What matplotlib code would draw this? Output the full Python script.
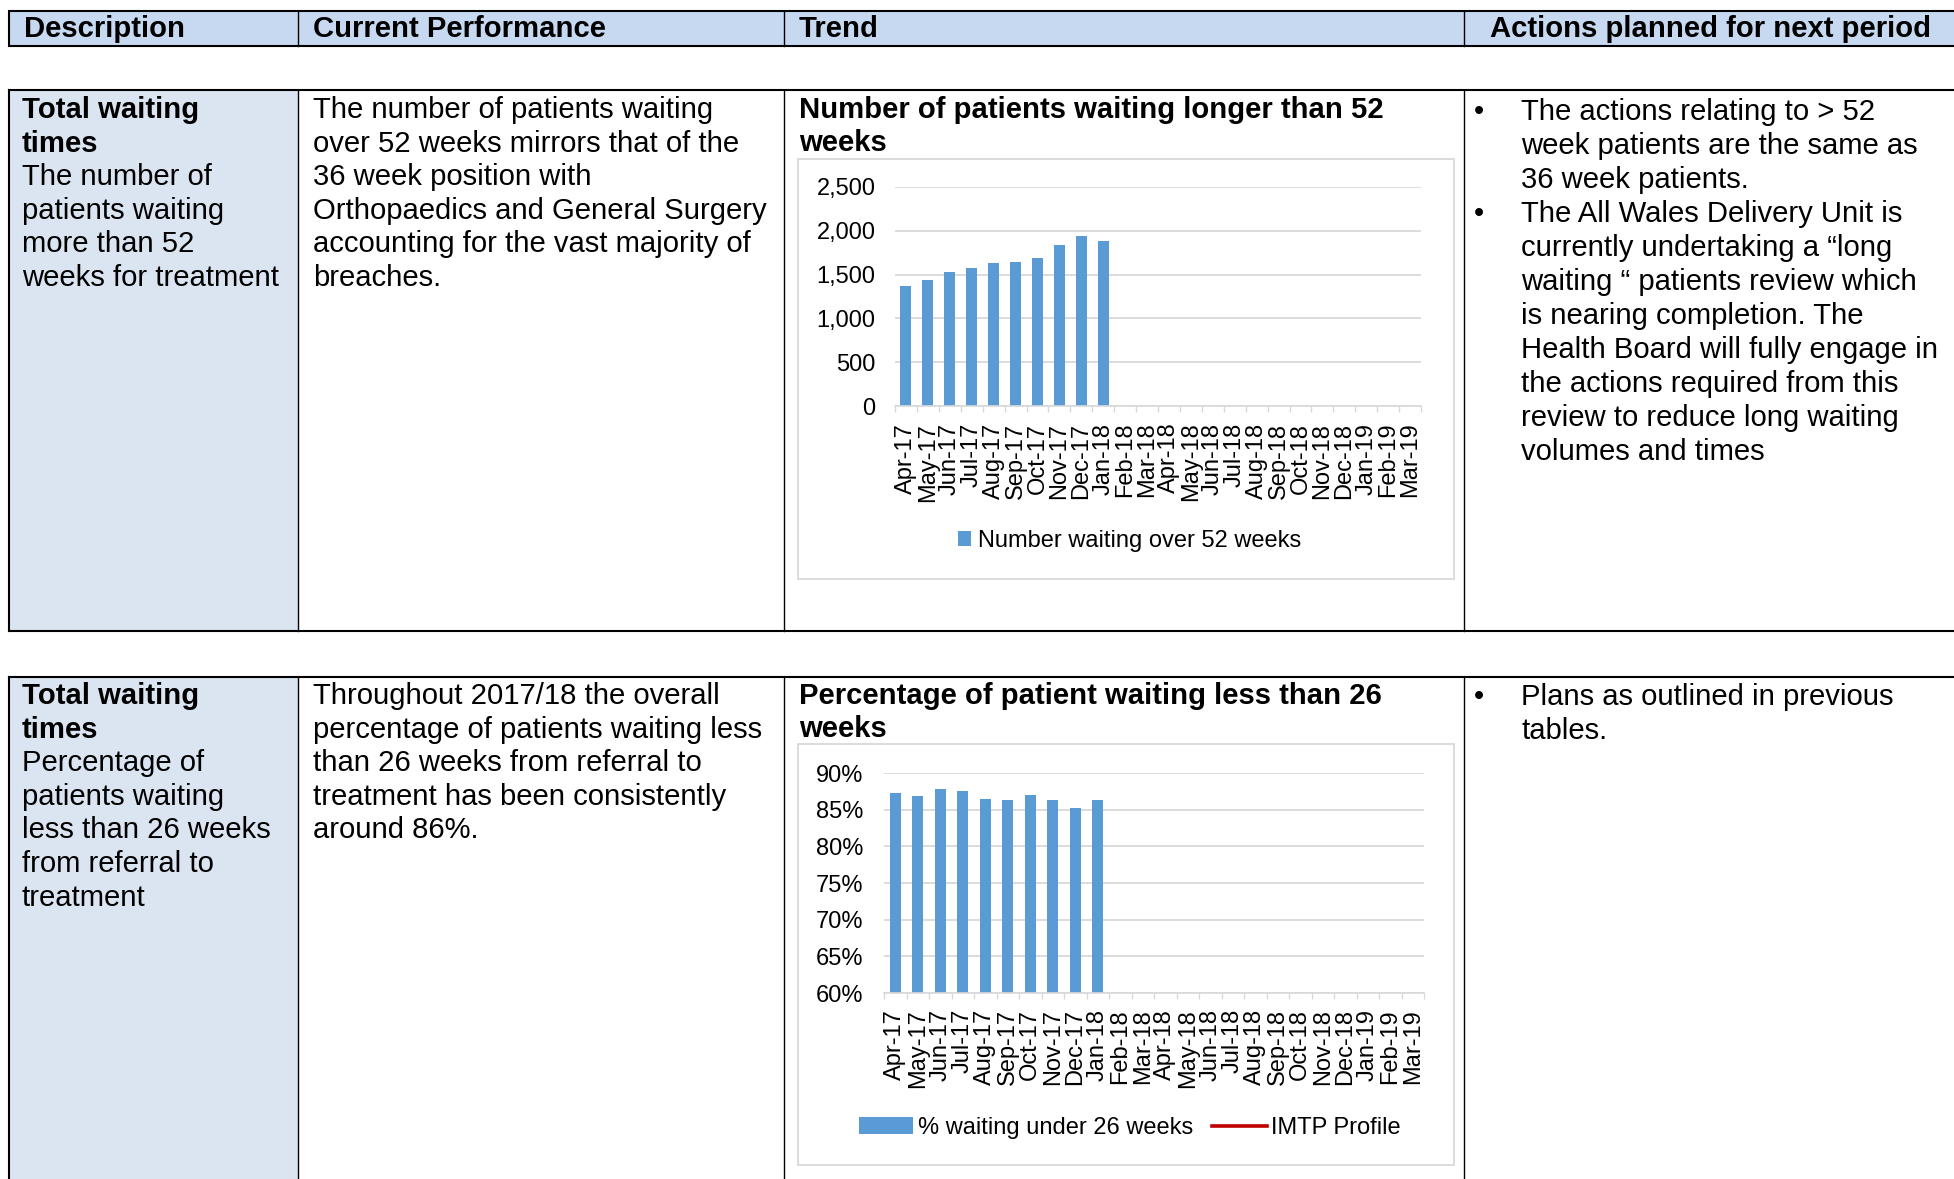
import numpy as np
import matplotlib
matplotlib.use("Agg")
import matplotlib.pyplot as plt
from matplotlib.patches import Rectangle
from matplotlib.ticker import FuncFormatter, FixedLocator, MultipleLocator

plt.rcParams['font.family'] = ['Liberation Sans', 'DejaVu Sans']

# ---------------- data ----------------
months = ["Apr-17", "May-17", "Jun-17", "Jul-17", "Aug-17", "Sep-17", "Oct-17",
          "Nov-17", "Dec-17", "Jan-18", "Feb-18", "Mar-18", "Apr-18", "May-18",
          "Jun-18", "Jul-18", "Aug-18", "Sep-18", "Oct-18", "Nov-18", "Dec-18",
          "Jan-19", "Feb-19", "Mar-19"]
over52_weeks = [1367, 1439, 1527, 1572, 1629, 1640, 1689, 1833, 1936, 1879]
pct_under26 = [87.3, 86.8, 87.8, 87.5, 86.5, 86.3, 87.0, 86.3, 85.2, 86.3]
imtp_profile = []  # series present in legend only, no values shown

headers = ["Description", "Current Performance", "Trend", "Actions planned for next period"]

row1_desc = [("Total waiting", True), ("times", True), ("The number of", False),
             ("patients waiting", False), ("more than 52", False), ("weeks for treatment", False)]
row1_perf = ["The number of patients waiting", "over 52 weeks mirrors that of the",
             "36 week position with", "Orthopaedics and General Surgery",
             "accounting for the vast majority of", "breaches."]
row1_title = ["Number of patients waiting longer than 52", "weeks"]
row1_actions = [["The actions relating to > 52", "week patients are the same as", "36 week patients."],
                ["The All Wales Delivery Unit is", "currently undertaking a \u201clong",
                 "waiting \u201c patients review which", "is nearing completion. The",
                 "Health Board will fully engage in", "the actions required from this",
                 "review to reduce long waiting", "volumes and times"]]

row2_desc = [("Total waiting", True), ("times", True), ("Percentage of", False),
             ("patients waiting", False), ("less than 26 weeks", False),
             ("from referral to", False), ("treatment", False)]
row2_perf = ["Throughout 2017/18 the overall", "percentage of patients waiting less",
             "than 26 weeks from referral to", "treatment has been consistently", "around 86%."]
row2_title = ["Percentage of patient waiting less than 26", "weeks"]
row2_actions = [["Plans as outlined in previous", "tables."]]

# ---------------- layout ----------------
W, H = 1954, 1179
DPI = 100
BODY = 21.1
CHART = 17.0
BAR = '#5B9BD5'
GRID = '#D9D9D9'

fig = plt.figure(figsize=(W / DPI, H / DPI), dpi=DPI)
bg = fig.add_axes([0, 0, 1, 1])
bg.set_xlim(0, W)
bg.set_ylim(H, 0)
bg.axis('off')

def px_axes(l, t, r, b):
    return fig.add_axes([l / W, 1 - b / H, (r - l) / W, (b - t) / H])

LW_OUT = 1.5
LW_IN = 1.0
xl, xd1, xd2, xd3, xr = 9, 298, 784, 1464, W + 10

# header row
bg.add_patch(Rectangle((xl, 11), xr - xl, 35, facecolor='#C6D9F1', edgecolor='black', lw=LW_OUT, zorder=1))
for xd in (xd1, xd2, xd3):
    bg.plot([xd, xd], [11, 46], color='black', lw=LW_IN, zorder=2)
for x, s in zip([24, 313, 799, 1490], headers):
    bg.text(x, 37, s, fontsize=BODY, fontweight='bold', va='baseline', ha='left', zorder=3)

def draw_row(top, bottom):
    bg.add_patch(Rectangle((xl, top), xd1 - xl, bottom - top, facecolor='#DBE5F1', edgecolor='none', zorder=0))
    bg.plot([xl, xr], [top, top], color='black', lw=LW_OUT, zorder=2)
    if bottom < H:
        bg.plot([xl, xr], [bottom, bottom], color='black', lw=LW_OUT, zorder=2)
    bg.plot([xl, xl], [top, bottom], color='black', lw=LW_OUT, zorder=2)
    for xd in (xd1, xd2, xd3):
        bg.plot([xd, xd], [top, bottom], color='black', lw=LW_IN, zorder=2)

draw_row(90, 631)
draw_row(677, H + 10)

LS = 33.6
def text_lines(x, y0, lines, bold=False, ls=LS):
    for i, item in enumerate(lines):
        if isinstance(item, tuple):
            s, b = item
        else:
            s, b = item, bold
        bg.text(x, y0 + 10 + i * ls, s, fontsize=BODY, fontweight='bold' if b else 'normal',
                va='baseline', ha='left', zorder=3)

def bullets(y0, groups, ls=34.0):
    k = 0
    for g in groups:
        bg.text(1479, y0 + 10 + k * ls, "\u2022", fontsize=BODY, va='baseline', ha='center', zorder=3)
        for s in g:
            bg.text(1521, y0 + 10 + k * ls, s, fontsize=BODY, va='baseline', ha='left', zorder=3)
            k += 1

text_lines(22, 108, row1_desc)
text_lines(313, 108, row1_perf)
text_lines(799, 108, row1_title, bold=True, ls=33)
bullets(110, row1_actions)

text_lines(22, 694, row2_desc)
text_lines(313, 694, row2_perf)
text_lines(799, 694, row2_title, bold=True, ls=33)
bullets(695, row2_actions)

# chart frames
bg.add_patch(Rectangle((798, 159), 656, 420, facecolor='white', edgecolor=GRID, lw=1.3, zorder=1))
bg.add_patch(Rectangle((798, 744), 656, 421, facecolor='white', edgecolor=GRID, lw=1.3, zorder=1))

def style_axis(ax, pad_x):
    for s in ('top', 'right', 'left'):
        ax.spines[s].set_visible(False)
    ax.spines['bottom'].set_color(GRID)
    ax.spines['bottom'].set_linewidth(1.2)
    ax.set_xlim(-0.5, len(months) - 0.5)
    ax.set_xticks(range(len(months)))
    ax.set_xticklabels(months, rotation=90, fontsize=CHART)
    ax.xaxis.set_minor_locator(FixedLocator(np.arange(-0.5, len(months), 1.0)))
    ax.tick_params(axis='x', which='major', length=0, pad=pad_x)
    ax.tick_params(axis='x', which='minor', length=4.5, color=GRID, width=1.0, direction='out')
    ax.tick_params(axis='y', length=0, labelsize=CHART)
    ax.yaxis.grid(True, color=GRID, lw=1.3)
    ax.set_axisbelow(True)
    ax.patch.set_alpha(0)

# chart 1
ax1 = px_axes(895, 187, 1421, 406)
ax1.set_zorder(5)
ax1.bar(range(len(over52_weeks)), over52_weeks, width=0.5, color=BAR, label='Number waiting over 52 weeks')
ax1.set_ylim(0, 2500)
ax1.yaxis.set_major_locator(MultipleLocator(500))
ax1.yaxis.set_major_formatter(FuncFormatter(lambda v, p: f"{v:,.0f}"))
style_axis(ax1, 12)
ax1.tick_params(axis='y', pad=14)
ax1.legend(loc='center', bbox_to_anchor=(1130, 541), bbox_transform=bg.transData, frameon=False,
           fontsize=CHART, handlelength=0.55, handleheight=0.6, handletextpad=0.3)

# chart 2
ax2 = px_axes(884, 773, 1424, 993)
ax2.set_zorder(5)
bars2 = ax2.bar(range(len(pct_under26)), pct_under26, width=0.5, color=BAR, label='% waiting under 26 weeks')
line2, = ax2.plot(range(len(imtp_profile)), imtp_profile, color='#C00000', lw=2.6, label='IMTP Profile')
ax2.set_ylim(60, 90)
ax2.yaxis.set_major_locator(MultipleLocator(5))
ax2.yaxis.set_major_formatter(FuncFormatter(lambda v, p: f"{v:.0f}%"))
style_axis(ax2, 11.5)
ax2.tick_params(axis='y', pad=15)
ax2.legend(handles=[bars2, line2], loc='center', bbox_to_anchor=(1130, 1128), bbox_transform=bg.transData,
           frameon=False, fontsize=CHART, ncol=2, handlelength=2.3, handleheight=0.75, handletextpad=0.2,
           columnspacing=0.8)

fig.savefig('out.png', dpi=DPI)
